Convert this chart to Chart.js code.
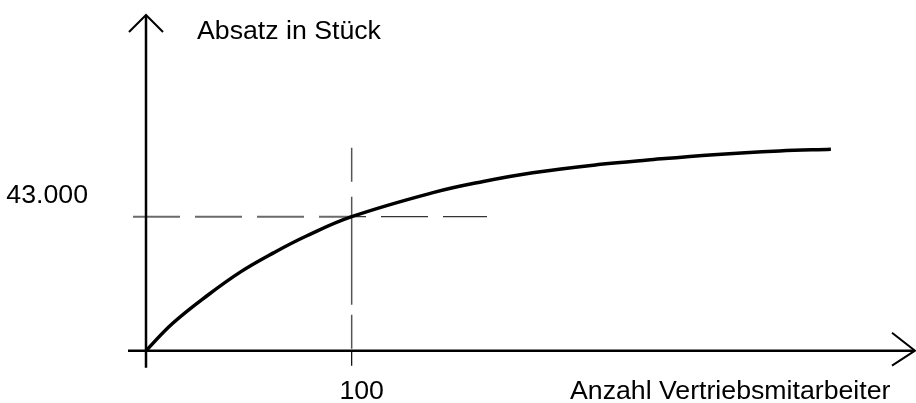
<!DOCTYPE html>
<html>
<head>
<meta charset="utf-8">
<script src="https://cdn.jsdelivr.net/npm/chart.js@4"></script>
<style>
  html, body { margin: 0; padding: 0; background: #fff; }
  #wrap { width: 916px; height: 403px; position: relative; }
</style>
</head>
<body>
<div id="wrap"><canvas id="salesChart"></canvas></div>
<script>
// Absatz (Stück) über Anzahl Vertriebsmitarbeiter
const staff = [0, 13, 30, 46, 62, 78, 100, 140, 164, 188, 221, 244, 276, 308, 333];
const sales = [0, 8800, 17800, 25300, 31400, 36800, 43000, 50800, 54300, 57100, 59800, 61200, 62900, 64100, 64650];

const xTicks = [100];
const yTicks = [43000];
const xTitle = 'Anzahl Vertriebsmitarbeiter';
const yTitle = 'Absatz in Stück';

const font = '26.7px "Liberation Sans", Arial, sans-serif';

// axes with arrows, guide lines, tick labels and axis titles
const sketchAxes = {
    id: 'sketchAxes',
    beforeDatasetsDraw(chart) {
        const { ctx, scales: { x, y } } = chart;
        const x0 = x.getPixelForValue(0);
        const y0 = y.getPixelForValue(0);
        const xg = x.getPixelForValue(xTicks[0]);
        const yg = y.getPixelForValue(yTicks[0]);

        ctx.save();
        // horizontal guide: grey left of the crossing, thin black right of it
        ctx.setLineDash([47, 15]);
        [['#6a6a6a', 2, 0, xg], ['#000', 1, xg, 916]].forEach(([col, w, a, b]) => {
            ctx.save();
            ctx.beginPath();
            ctx.rect(a, 0, b - a, 403);
            ctx.clip();
            ctx.strokeStyle = col;
            ctx.lineWidth = w;
            ctx.beginPath();
            ctx.moveTo(x0 - 13, yg);
            ctx.lineTo(x0 + 341, yg);
            ctx.stroke();
            ctx.restore();
        });
        // vertical guide
        ctx.strokeStyle = '#555';
        ctx.lineWidth = 1.5;
        ctx.setLineDash([34, 15, 108, 10]);
        ctx.beginPath();
        ctx.moveTo(xg, yg - 69);
        ctx.lineTo(xg, y0);
        ctx.stroke();
        ctx.setLineDash([]);

        // tick mark at 100
        ctx.strokeStyle = '#000';
        ctx.lineWidth = 1.2;
        ctx.beginPath();
        ctx.moveTo(xg, y0);
        ctx.lineTo(xg, y0 + 15);
        ctx.stroke();

        // axes
        ctx.lineWidth = 2.5;
        ctx.beginPath();
        ctx.moveTo(x0, y0 + 17);
        ctx.lineTo(x0, 16);
        ctx.moveTo(x0 - 18, y0);
        ctx.lineTo(914, y0);
        ctx.stroke();

        // arrow heads
        ctx.lineWidth = 2;
        ctx.beginPath();
        ctx.moveTo(x0 - 17, 32);
        ctx.lineTo(x0, 15);
        ctx.lineTo(x0 + 17, 32);
        ctx.moveTo(892, y0 - 18);
        ctx.lineTo(915, y0);
        ctx.lineTo(892, y0 + 15);
        ctx.stroke();

        // tick labels
        ctx.fillStyle = '#000';
        ctx.font = font;
        ctx.textBaseline = 'alphabetic';
        ctx.textAlign = 'center';
        xTicks.forEach(v => {
            ctx.fillText(String(v), x.getPixelForValue(v) + 10, y0 + 48);
        });
        ctx.textAlign = 'right';
        yTicks.forEach(v => {
            ctx.fillText(v.toLocaleString('de-DE'), 88, y.getPixelForValue(v) - 14);
        });

        // titles
        ctx.textAlign = 'left';
        ctx.fillText(yTitle, 197, 39);
        ctx.fillText(xTitle, 570, y0 + 48);
        ctx.restore();
    }
};

const chartCtx = document.getElementById('salesChart').getContext('2d');
const salesChart = new Chart(chartCtx, {
    type: 'line',
    data: {
        datasets: [{
            label: 'Absatz',
            data: staff.map((v, i) => ({ x: v, y: sales[i] })),
            borderColor: '#000',
            borderWidth: 3.5,
            pointRadius: 0,
            fill: false,
            tension: 0.4
        }]
    },
    options: {
        responsive: true,
        maintainAspectRatio: false,
        animation: false,
        layout: {
            padding: { left: 146, right: 9, top: 23.5, bottom: 52.3 }
        },
        plugins: {
            legend: { display: false },
            tooltip: { enabled: false }
        },
        scales: {
            x: { type: 'linear', min: 0, max: 370, display: false },
            y: { min: 0, max: 105000, display: false }
        }
    },
    plugins: [sketchAxes]
});
</script>
</body>
</html>
